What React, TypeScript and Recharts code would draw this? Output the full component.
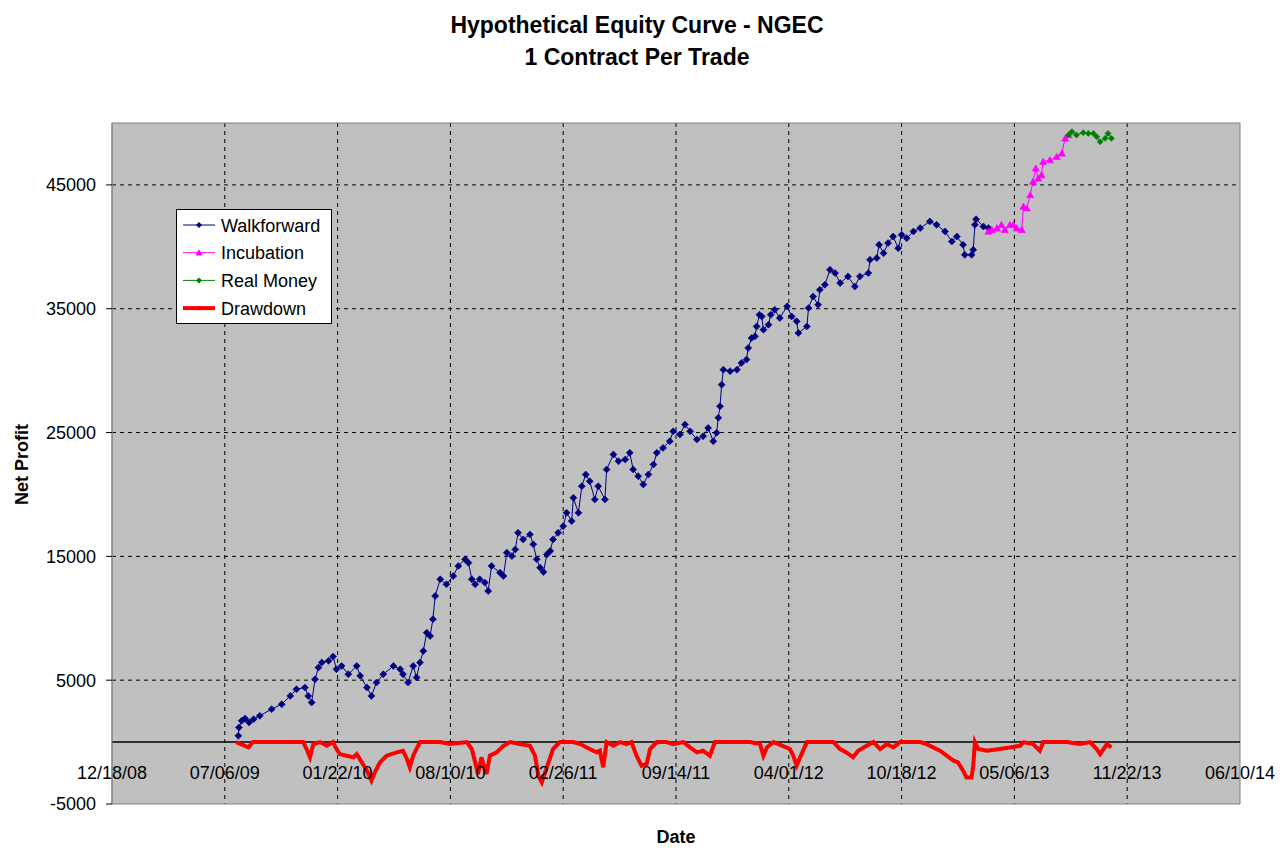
import React from 'react';
import {
  LineChart,
  Line,
  XAxis,
  YAxis,
  CartesianGrid,
  ReferenceLine,
  ReferenceArea,
  Legend,
} from 'recharts';

// x values are days since 12/18/08
const xTicks = [0, 200, 400, 600, 800, 1000, 1200, 1400, 1600, 1800, 2000];
const xTickLabels = [
  '12/18/08', '07/06/09', '01/22/10', '08/10/10', '02/26/11', '09/14/11',
  '04/01/12', '10/18/12', '05/06/13', '11/22/13', '06/10/14',
];
const yTicks = [-5000, 5000, 15000, 25000, 35000, 45000];
const innerXGrid = [200, 400, 600, 800, 1000, 1200, 1400, 1600, 1800];
const innerYGrid = [5000, 15000, 25000, 35000, 45000];

const wfDays = [
  224, 225, 230, 236, 243, 251, 262, 283, 301, 316, 327, 342, 348, 354, 360, 366, 372, 384, 392, 398,
  407, 419, 434, 440, 452, 460, 469, 481, 499, 511, 516, 525, 534, 540, 546, 552, 558, 564, 569, 573,
  582, 593, 605, 614, 626, 632, 638, 644, 652, 661, 667, 673, 688, 694, 700, 709, 715, 720, 729, 741,
  747, 753, 759, 765, 771, 777, 782, 791, 800, 806, 815, 818, 827, 833, 840, 847, 856, 862, 874, 877,
  889, 898, 910, 918, 924, 933, 942, 951, 960, 966, 977, 989, 995, 1007, 1016, 1025, 1037, 1048, 1057, 1066,
  1072, 1075, 1078, 1081, 1084, 1096, 1108, 1116, 1125, 1128, 1134, 1140, 1143, 1148, 1152, 1155, 1164, 1168, 1175, 1184,
  1197, 1205, 1214, 1217, 1232, 1235, 1243, 1252, 1255, 1264, 1273, 1282, 1291, 1305, 1317, 1326, 1341, 1344, 1356, 1360,
  1368, 1376, 1385, 1394, 1400, 1409, 1421, 1433, 1450, 1462, 1477, 1489, 1498, 1509, 1512, 1524, 1527, 1530, 1532, 1545,
  1554,
];
const wfValues = [
  510, 1180, 1720, 1910, 1590, 1850, 2120, 2660, 3060, 3730, 4270, 4410, 3730, 3200, 5080, 6020, 6430, 6560, 6910, 5890,
  6150, 5480, 6150, 5350, 4410, 3730, 4810, 5480, 6150, 5890, 5480, 4810, 6150, 5220, 6430, 7360, 8840, 8570, 9920, 11800,
  13150, 12740, 13410, 14220, 14760, 14490, 13150, 12740, 13150, 12880, 12200, 14220, 13680, 13410, 15300, 15020, 15560, 16900, 16370, 16770,
  15970, 14760, 14090, 13730, 15160, 15430, 16370, 16900, 17440, 18520, 17850, 19730, 18520, 20670, 21610, 21070, 19600, 20670, 19600, 22020,
  23230, 22690, 22820, 23360, 22020, 21480, 20810, 21610, 22420, 23360, 23760, 24300, 25100, 24840, 25650, 25100, 24440, 24700, 25370, 24300,
  24980, 26190, 27120, 28870, 30080, 29960, 30080, 30620, 30890, 31830, 32630, 32770, 33570, 34520, 34380, 33310, 33710, 34520, 34920, 34250,
  35190, 34380, 33980, 33040, 33570, 35050, 35990, 35320, 36530, 36940, 38150, 37880, 37070, 37610, 36800, 37610, 37880, 38950, 39090, 40160,
  39490, 40300, 40830, 39890, 40970, 40700, 41240, 41510, 42050, 41780, 41240, 40430, 40830, 40160, 39350, 39350, 39760, 41780, 42230, 41640,
  41510,
];

const incDays = [
  1554, 1560, 1569, 1577, 1583, 1592, 1598, 1604, 1613, 1616, 1622, 1628, 1633, 1638, 1642, 1648, 1651, 1663, 1675, 1684,
  1690, 1696,
];
const incValues = [
  41240, 41370, 41510, 41780, 41370, 41780, 41780, 41510, 41370, 43250, 43120, 44190, 45270, 46340, 45530, 45800, 46880, 47010, 47280, 47550,
  48760, 49030,
];

const rmDays = [1696, 1702, 1710, 1722, 1731, 1740, 1746, 1752, 1761, 1766, 1772];
const rmValues = [49030, 49300, 49030, 49220, 49160, 49160, 48890, 48490, 48760, 49160, 48760];

const ddDays = [
  220, 242, 250, 339, 345, 351, 357, 369, 381, 392, 398, 404, 416, 428, 434, 443, 452, 460, 466, 475,
  487, 505, 516, 523, 528, 534, 546, 582, 599, 629, 638, 644, 649, 655, 664, 670, 682, 694, 706, 723,
  741, 750, 756, 762, 768, 774, 782, 794, 818, 830, 847, 859, 865, 871, 877, 889, 901, 912, 921, 930,
  939, 948, 954, 966, 983, 995, 1013, 1025, 1037, 1048, 1060, 1069, 1102, 1131, 1149, 1155, 1161, 1173, 1202, 1208,
  1214, 1220, 1232, 1279, 1291, 1302, 1314, 1323, 1338, 1350, 1362, 1374, 1385, 1397, 1433, 1444, 1456, 1468, 1480, 1492,
  1500, 1509, 1515, 1524, 1527, 1530, 1536, 1551, 1574, 1592, 1610, 1616, 1633, 1645, 1651, 1693, 1716, 1734, 1746, 1752,
  1764, 1772,
];
const ddValues = [
  0, -430, 0, 0, -560, -1230, -160, 0, -300, 0, -560, -970, -1100, -1230, -970, -1640, -2310, -3120, -2440, -1640,
  -1100, -830, -700, -1370, -2040, -1100, 0, 0, -160, 0, -560, -1640, -2580, -1230, -2580, -1100, -830, -300, 0, -160,
  -300, -1100, -2720, -3250, -2440, -1640, -560, 0, 0, -160, -560, -830, -700, -2040, 0, -300, 0, -160, 0, -1100,
  -1910, -1770, -560, 0, 0, -160, 0, -430, -830, -700, -1100, 0, 0, 0, -160, -1100, -430, 0, -560, -1100,
  -1910, -1230, 0, 0, -560, -830, -1230, -700, -300, 0, -560, -160, -430, 0, 0, -160, -430, -700, -1100, -1500,
  -1640, -2310, -2850, -2850, -1910, 0, -560, -700, -560, -430, -300, 0, -160, -700, 0, 0, -160, 0, -560, -970,
  -160, -430,
];

const toPoints = (days: number[], values: number[]) => days.map((d, i) => ({ d, v: values[i] }));
const wfData = toPoints(wfDays, wfValues);
const incData = toPoints(incDays, incValues);
const rmData = toPoints(rmDays, rmValues);
const ddData = toPoints(ddDays, ddValues);

const FONT = '"Liberation Sans", Arial, Helvetica, sans-serif';

const WF_COLOR = '#000080';
const INC_COLOR = '#FF00FF';
const RM_COLOR = '#008000';
const DD_COLOR = '#FF0000';

const diamondPath = (cx: number, cy: number, r: number) =>
  `M${cx},${cy - r}L${cx + r},${cy}L${cx},${cy + r}L${cx - r},${cy}Z`;
const trianglePath = (cx: number, cy: number, r: number) =>
  `M${cx},${cy - r}L${cx + r},${cy + r * 0.8}L${cx - r},${cy + r * 0.8}Z`;

const makeDot = (prefix: string, color: string, shape: 'diamond' | 'triangle', r: number) =>
  (p: any) => {
    const key = `${prefix}-${p.index}`;
    if (p.cx == null || p.cy == null) return <g key={key} />;
    const d = shape === 'diamond' ? diamondPath(p.cx, p.cy, r) : trianglePath(p.cx, p.cy, r);
    return <path key={key} d={d} fill={color} stroke={color} strokeWidth={0.6} />;
  };

const XTick = (props: any) => {
  const { x, y, payload } = props;
  const i = xTicks.indexOf(payload.value);
  return (
    <text x={x} y={y - 25} textAnchor="middle" fontSize={18} fontFamily={FONT} fill="#000">
      {xTickLabels[i]}
    </text>
  );
};

const DateLabel = (props: any) => {
  const vb = props.viewBox || {};
  return (
    <text
      x={vb.x + vb.width / 2}
      y={vb.y + 39}
      textAnchor="middle"
      fontSize={18}
      fontWeight="bold"
      fontFamily={FONT}
      fill="#000"
    >
      Date
    </text>
  );
};

const NetProfitLabel = (props: any) => {
  const vb = props.viewBox || {};
  const cx = vb.x + 22;
  const cy = vb.y + vb.height / 2 + 1;
  return (
    <text
      x={cx}
      y={cy}
      dy={6}
      transform={`rotate(-90, ${cx}, ${cy})`}
      textAnchor="middle"
      fontSize={18}
      fontWeight="bold"
      fontFamily={FONT}
      fill="#000"
    >
      Net Profit
    </text>
  );
};

const legendItems = [
  { name: 'Walkforward', color: WF_COLOR, shape: 'diamond', width: 1 },
  { name: 'Incubation', color: INC_COLOR, shape: 'triangle', width: 1 },
  { name: 'Real Money', color: RM_COLOR, shape: 'diamond', width: 1 },
  { name: 'Drawdown', color: DD_COLOR, shape: 'square', width: 4 },
];

const renderLegend = () => (
  <svg width={157} height={116} style={{ display: 'block' }}>
    <rect x={0.5} y={0.5} width={155} height={114} fill="#fff" stroke="#000" strokeWidth={1} />
    {legendItems.map((it, i) => {
      const cy = 16 + i * 27.7;
      return (
        <g key={it.name}>
          <line x1={7} x2={39} y1={cy} y2={cy} stroke={it.color} strokeWidth={it.width} />
          {it.shape === 'diamond' && <path d={diamondPath(23, cy, 3)} fill={it.color} />}
          {it.shape === 'triangle' && <path d={trianglePath(23, cy, 3.5)} fill={it.color} />}
          {it.shape === 'square' && <rect x={21} y={cy - 2} width={4} height={4} fill={it.color} />}
          <text x={45} y={cy + 6.5} fontSize={18} fontFamily={FONT} fill="#000">
            {it.name}
          </text>
        </g>
      );
    })}
  </svg>
);

export default function App() {
  return (
    <div style={{ position: 'absolute', left: 0, top: 0, width: 1282, height: 848, background: '#fff' }}>
      <LineChart width={1282} height={848} margin={{ top: 123, right: 42, bottom: 0, left: 0 }}>
        <CartesianGrid
          stroke="#000"
          strokeDasharray="4 4"
          fill="#C0C0C0"
          fillOpacity={1}
          horizontalValues={innerYGrid}
          verticalValues={innerXGrid}
        />
        <XAxis
          type="number"
          dataKey="d"
          domain={[0, 2000]}
          ticks={xTicks}
          interval={0}
          height={44}
          axisLine={false}
          tickLine={false}
          tickSize={0}
          tickMargin={0}
          tick={<XTick />}
          label={<DateLabel />}
          allowDataOverflow
        />
        <YAxis
          type="number"
          domain={[-5000, 50000]}
          ticks={yTicks}
          interval={0}
          width={112}
          axisLine={{ stroke: '#808080' }}
          tickLine={{ stroke: '#000' }}
          tickSize={6}
          tickMargin={10}
          tick={{ fill: '#000', fontSize: 18, fontFamily: FONT }}
          label={<NetProfitLabel />}
          allowDataOverflow
        />
        <ReferenceArea
          x1={0}
          x2={2000}
          y1={-5000}
          y2={50000}
          fill="none"
          fillOpacity={0}
          stroke="#808080"
          strokeOpacity={1}
          strokeWidth={1}
          ifOverflow="visible"
        />
        <ReferenceLine y={0} stroke="#000" strokeWidth={1.5} />
        <Line
          data={ddData}
          dataKey="v"
          name="Drawdown"
          type="linear"
          stroke={DD_COLOR}
          strokeWidth={4}
          dot={false}
          activeDot={false}
          isAnimationActive={false}
        />
        <Line
          data={wfData}
          dataKey="v"
          name="Walkforward"
          type="linear"
          stroke={WF_COLOR}
          strokeWidth={1}
          dot={makeDot('wf', WF_COLOR, 'diamond', 3.5)}
          activeDot={false}
          isAnimationActive={false}
        />
        <Line
          data={incData}
          dataKey="v"
          name="Incubation"
          type="linear"
          stroke={INC_COLOR}
          strokeWidth={1}
          dot={makeDot('inc', INC_COLOR, 'triangle', 3.5)}
          activeDot={false}
          isAnimationActive={false}
        />
        <Line
          data={rmData}
          dataKey="v"
          name="Real Money"
          type="linear"
          stroke={RM_COLOR}
          strokeWidth={1}
          dot={makeDot('rm', RM_COLOR, 'diamond', 3)}
          activeDot={false}
          isAnimationActive={false}
        />
        <Legend
          layout="horizontal"
          align="center"
          verticalAlign="middle"
          wrapperStyle={{ position: 'absolute', left: 176, top: 209, width: 157, height: 116 }}
          content={renderLegend}
        />
        <text x={637} y={33} textAnchor="middle" fontSize={23} fontWeight="bold" fontFamily={FONT} fill="#000">
          Hypothetical Equity Curve - NGEC
        </text>
        <text x={637} y={65} textAnchor="middle" fontSize={23} fontWeight="bold" fontFamily={FONT} fill="#000">
          1 Contract Per Trade
        </text>
      </LineChart>
    </div>
  );
}
